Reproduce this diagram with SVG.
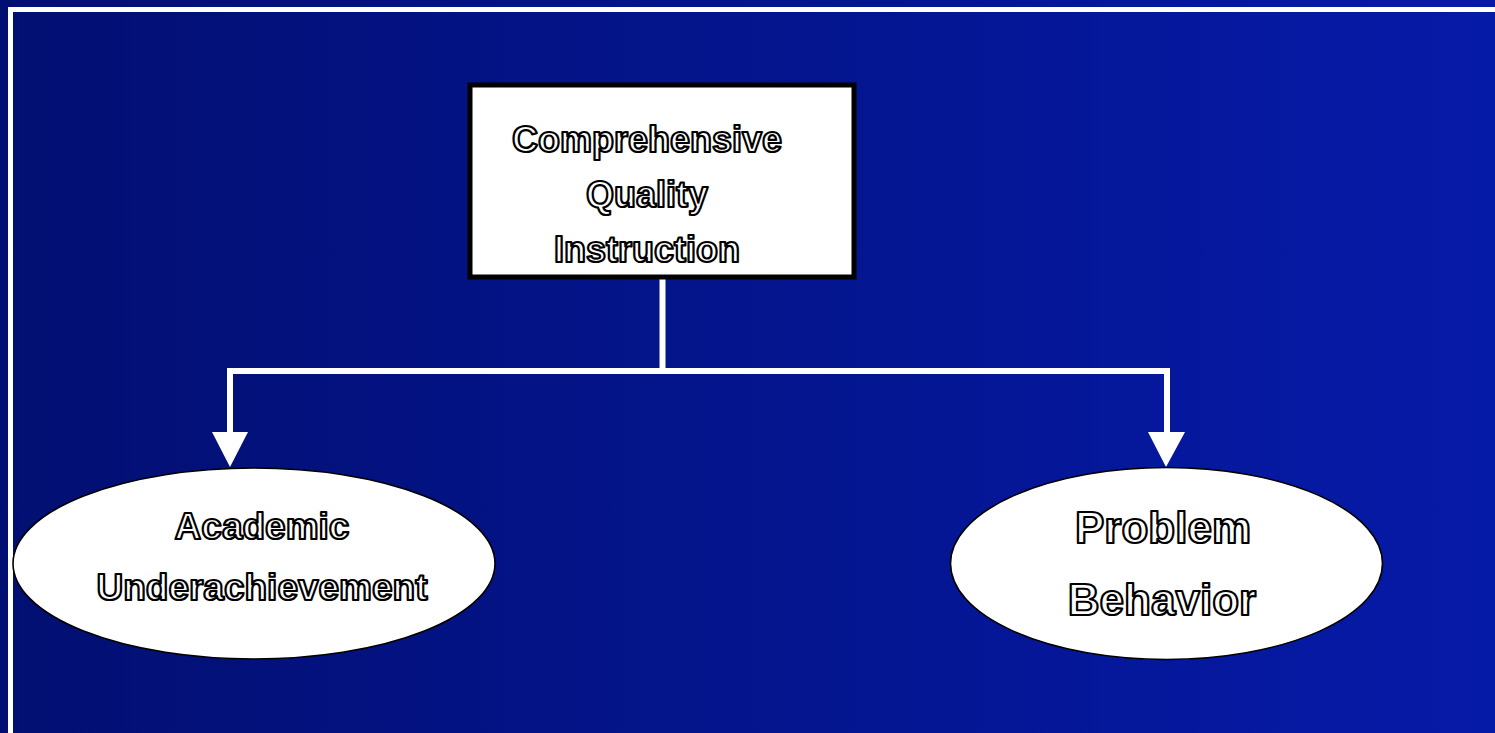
<svg xmlns="http://www.w3.org/2000/svg" width="1495" height="733" viewBox="0 0 1495 733">
<defs>
<linearGradient id="bg" x1="0" y1="0" x2="1" y2="0">
<stop offset="0" stop-color="#020f72"/>
<stop offset="1" stop-color="#061aa8"/>
</linearGradient>
<style>
.t{font-family:"Liberation Sans",Arial,sans-serif;font-weight:bold;fill:#fff;stroke:#000;stroke-width:2.2;stroke-linejoin:round;text-anchor:middle}
.c{stroke:#fff;stroke-width:6;fill:none}
.ah{fill:#fff}
.n{fill:#fff;stroke:#000}
</style>
</defs>
<rect width="1495" height="733" fill="url(#bg)"/>
<rect x="10.5" y="9.5" width="1500" height="740" fill="none" stroke="#fff" stroke-width="5"/>
<g id="connectors">
<path class="c" d="M662.5 279 V371 M230 371 H1167 M230 368 V434 M1167 368 V434"/>
<polygon class="ah" points="212,432 248,432 230,467"/>
<polygon class="ah" points="1148,432 1185,432 1166,467"/>
</g>
<g id="cqi">
<rect class="n" x="470" y="85" width="384" height="192" stroke-width="5"/>
<text class="t" font-size="36" x="647" y="152">Comprehensive</text>
<text class="t" font-size="36" x="647" y="207">Quality</text>
<text class="t" font-size="36" x="647" y="262">Instruction</text>
</g>
<g id="academic">
<ellipse class="n" cx="254" cy="563.5" rx="241" ry="95.5" stroke-width="1.6"/>
<text class="t" font-size="37" x="262" y="539">Academic</text>
<text class="t" font-size="37" x="262" y="600">Underachievement</text>
</g>
<g id="behavior">
<ellipse class="n" cx="1166.5" cy="563.5" rx="216" ry="96" stroke-width="1.6"/>
<text class="t" font-size="44" x="1163" y="543">Problem</text>
<text class="t" font-size="44" x="1162" y="615">Behavior</text>
</g>
</svg>
